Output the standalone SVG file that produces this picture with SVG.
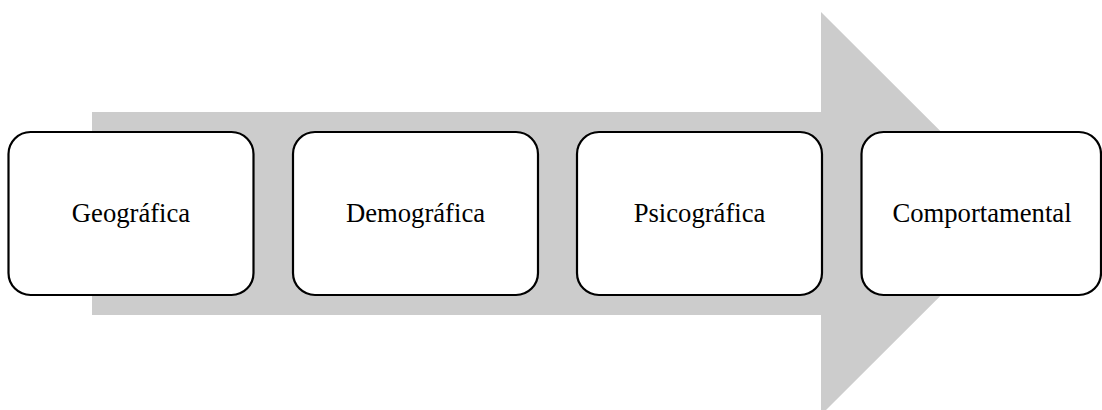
<svg xmlns="http://www.w3.org/2000/svg" width="1102" height="410" viewBox="0 0 1102 410">
<style>
.box{fill:#ffffff;stroke:#000000;stroke-width:2.2}
.lbl{font-family:"Liberation Serif","Times New Roman",serif;font-size:26.67px;fill:#000000;text-anchor:middle}
</style>
<rect x="0" y="0" width="1102" height="410" fill="#ffffff"/>
<g id="connectors">
<polygon points="92,112 821,112 821,12 1023,213.5 821,415 821,315 92,315" fill="#cccccc"/>
</g>
<g id="node1">
<rect class="box" x="8.5" y="132" width="245" height="163" rx="22" ry="22"/>
<text class="lbl" x="131" y="222">Geográfica</text>
</g>
<g id="node2">
<rect class="box" x="293" y="132" width="245" height="163" rx="22" ry="22"/>
<text class="lbl" x="415.5" y="222">Demográfica</text>
</g>
<g id="node3">
<rect class="box" x="577" y="132" width="245" height="163" rx="22" ry="22"/>
<text class="lbl" x="699.5" y="222">Psicográfica</text>
</g>
<g id="node4">
<rect class="box" x="861.5" y="132" width="239.5" height="163" rx="22" ry="22"/>
<text class="lbl" x="982" y="222">Comportamental</text>
</g>
</svg>
